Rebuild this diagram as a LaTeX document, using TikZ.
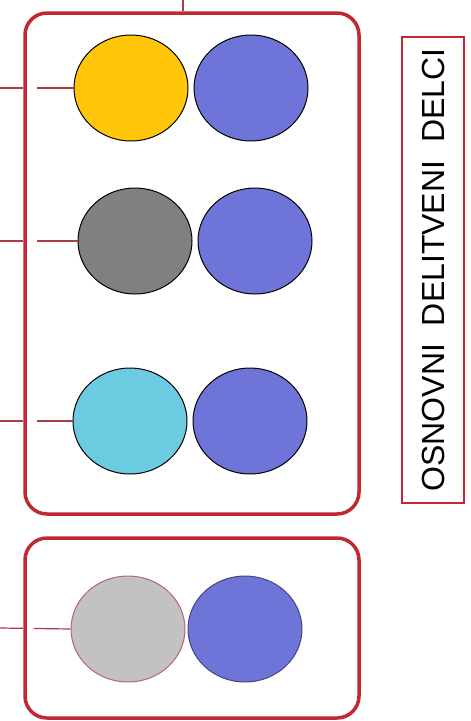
\documentclass[tikz,border=0pt]{standalone}
\usepackage{fontspec}
\setmainfont{Liberation Sans}
\usetikzlibrary{positioning,shapes.geometric}
\definecolor{frame}{RGB}{192,40,50}
\definecolor{wire}{RGB}{170,60,70}
\definecolor{blu}{RGB}{110,116,216}
\definecolor{yel}{RGB}{255,198,10}
\definecolor{cya}{RGB}{108,203,224}
\tikzset{
  grp/.style={draw=frame,line width=3.5pt,rounded corners=22pt,minimum width=334pt},
  ball/.style={ellipse,draw=black,line width=1pt,minimum width=114pt,minimum height=106pt,inner sep=0pt},
  bond/.style={draw=wire,line width=1.2pt,dash pattern=on 23pt off 14pt on 60pt off 0pt}
}
\begin{document}
\begin{tikzpicture}[x=1pt,y=-1pt]
\useasboundingbox (0,0) rectangle (471,721);
\node[grp,minimum height=501pt] (g1) at (192,263.5) {};
\node[grp,minimum height=180pt] (g2) at (192,628) {};
\coordinate (top) at (183,0);
\draw[wire,line width=1.2pt] (top) -- (top |- g1.north);
\foreach \n/\c/\x/\y in {a/yel/131/88,b/gray/135/241,c/cya/130/421} {
  \node[ball,fill=\c] (\n) at (\x,\y) {};
  \node[ball,fill=blu,right=5pt of \n] (\n2) {};
  \coordinate (w\n) at (0,\y);
  \draw[bond] (w\n) -- (\n.west);
}
\node[ball,fill=lightgray!95!white,draw=wire!80] (d) at (128,629) {};
\node[ball,fill=blu,draw=blu!60!black,right=2pt of d] (d2) {};
\coordinate (wd) at (0,628);
\draw[bond,dash pattern=on 23pt off 11pt on 60pt off 0pt] (wd) -- (d.west);
\node[draw=frame,line width=2.8pt,rotate=90,minimum width=466pt,minimum height=62pt,
  font=\fontsize{32}{38}\selectfont] (lbl) at (433,270) {OSNOVNI\ \ DELITVENI\ \ DELCI};
\end{tikzpicture}
\end{document}
